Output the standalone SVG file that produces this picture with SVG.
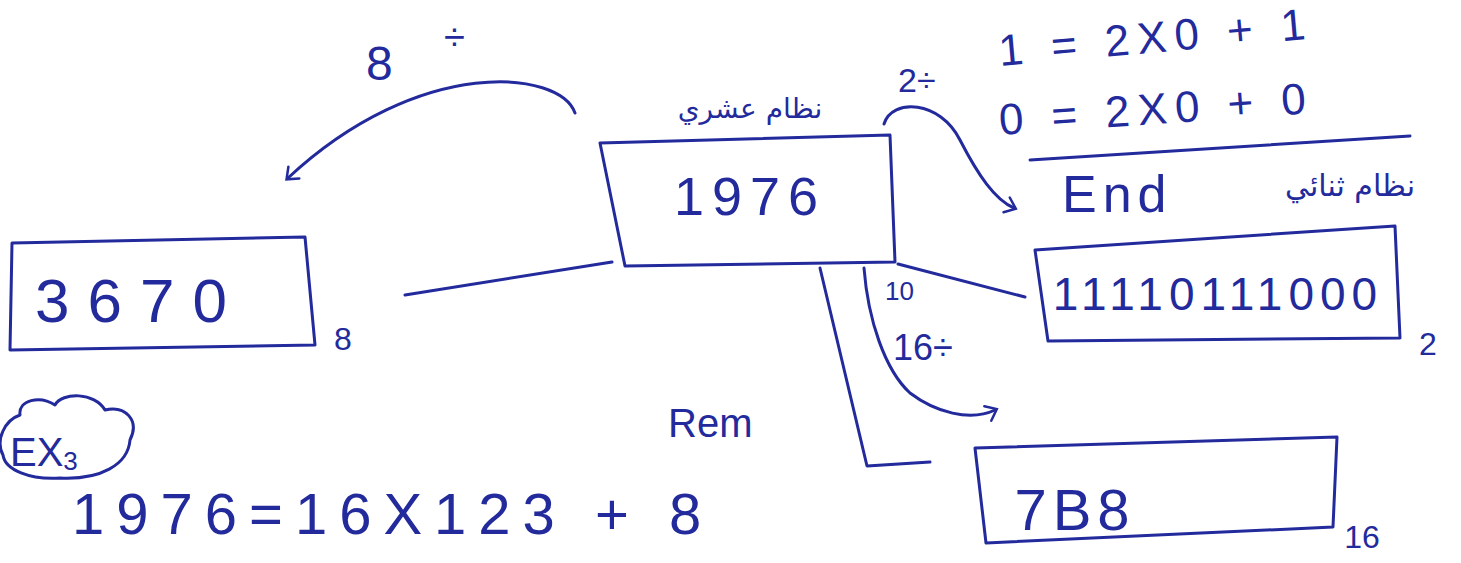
<svg xmlns="http://www.w3.org/2000/svg" width="1461" height="563" viewBox="0 0 1461 563">
<defs>
<style>
.ink{fill:none;stroke:#232a9c;stroke-width:3;stroke-linecap:round;stroke-linejoin:round}
.t{fill:#232a9c;font-family:"Liberation Sans","DejaVu Sans",sans-serif}
.ar{fill:#232a9c;font-family:"DejaVu Sans","Noto Sans",sans-serif}
</style>
<marker id="arr" viewBox="0 0 20 20" refX="10" refY="10" markerWidth="20" markerHeight="20" markerUnits="userSpaceOnUse" orient="auto">
<path d="M2 2 L12 10 L2 18" fill="none" stroke="#232a9c" stroke-width="2.5" stroke-linecap="round"/>
</marker>
</defs>
<rect width="1461" height="563" fill="#ffffff"/>

<g id="connectors">
<path class="ink" d="M612 262 L405 295"/>
<path class="ink" d="M898 264 L1025 297"/>
<path class="ink" d="M820 268 L867 466 L930 462"/>
<path class="ink" d="M575 113 C560 70 420 55 288 178" marker-end="url(#arr)"/>
<path class="ink" d="M884 124 C892 98 940 100 960 140 C978 175 995 200 1014 208" marker-end="url(#arr)"/>
<path class="ink" d="M864 268 C868 320 885 370 910 393 C935 412 970 422 995 410" marker-end="url(#arr)"/>
<path class="ink" d="M1030 160 L1410 136"/>
</g>

<g id="n1976">
<path class="ink" d="M600 143 L890 135 L895 262 L625 266 Z"/>
<text class="t" x="750" y="215" font-size="54" text-anchor="middle" letter-spacing="8">1976</text>
<text class="ar" x="750" y="118" font-size="28" text-anchor="middle">نظام عشري</text>
</g>

<g id="n3670">
<path class="ink" d="M12 243 L305 237 L315 345 L10 350 Z"/>
<text class="t" x="140" y="322" font-size="62" text-anchor="middle" letter-spacing="18">3670</text>
<text class="t" x="343" y="350" font-size="32" text-anchor="middle">8</text>
</g>

<g id="nbinary">
<path class="ink" d="M1035 250 L1395 226 L1400 338 L1048 341 Z"/>
<text class="t" x="1218" y="310" font-size="46" text-anchor="middle" letter-spacing="6">11110111000</text>
<text class="t" x="1428" y="355" font-size="32" text-anchor="middle">2</text>
</g>

<g id="nhex">
<path class="ink" d="M975 448 L1337 437 L1333 527 L986 543 Z"/>
<text class="t" x="1075" y="530" font-size="58" text-anchor="middle" letter-spacing="6">7B8</text>
<text class="t" x="1362" y="548" font-size="32" text-anchor="middle">16</text>
</g>

<g id="labels">
<text class="t" x="366" y="80" font-size="48">8</text>
<text class="t" x="444" y="50" font-size="38">÷</text>
<text class="t" x="898" y="92" font-size="34">2÷</text>
<text class="t" x="1000" y="66" font-size="44" transform="rotate(-5 1000 66)" letter-spacing="8">1 = 2X0 + 1</text>
<text class="t" x="1000" y="135" font-size="44" transform="rotate(-4 1000 135)" letter-spacing="8">0 = 2X0 + 0</text>
<text class="t" x="1062" y="212" font-size="52" letter-spacing="6">End</text>
<text class="ar" x="1350" y="196" font-size="30" text-anchor="middle">نظام ثنائي</text>
<text class="t" x="885" y="300" font-size="26">10</text>
<text class="t" x="893" y="360" font-size="36">16÷</text>
<text class="t" x="668" y="437" font-size="40">Rem</text>
</g>

<g id="ex3">
<path class="ink" d="M20 415 C18 400 40 395 55 405 C62 392 95 392 105 410 C125 405 140 420 130 440 C128 465 100 480 60 478 C30 480 5 470 3 455 C-5 440 5 420 20 415 Z"/>
<text class="t" x="10" y="466" font-size="40">EX<tspan font-size="26" dy="4">3</tspan></text>
</g>

<g id="equation">
<text class="t" x="72" y="534" font-size="58" letter-spacing="12">1976=16X123 + 8</text>
</g>
</svg>
